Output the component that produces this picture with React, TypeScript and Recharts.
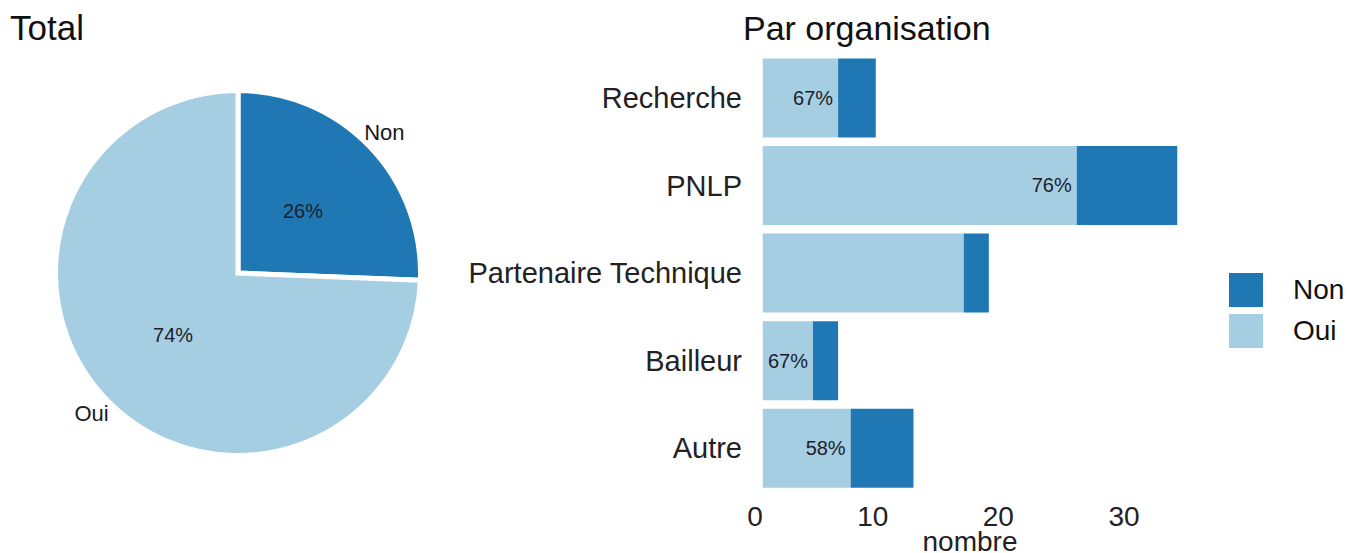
import React from "react";
import { PieChart, Pie, Cell, BarChart, Bar, XAxis, YAxis, LabelList } from "recharts";

const categories = ["Recherche", "PNLP", "Partenaire Technique", "Bailleur", "Autre"];
const oui = [6, 25, 16, 4, 7];
const non = [3, 8, 2, 2, 5];
const ouiPctLabels = ["67%", "76%", "", "67%", "58%"];
const xTicks = [0, 10, 20, 30];

const seriesNames = ["Non", "Oui"];
const seriesColors: Record<string, string> = { Non: "#1F78B4", Oui: "#A6CEE3" };

const FONT = "'Liberation Sans', Arial, Helvetica, sans-serif";
const RAD = Math.PI / 180;

const pieData = [
  { name: "Non", value: non.reduce((a, b) => a + b, 0) },
  { name: "Oui", value: oui.reduce((a, b) => a + b, 0) },
];

const barData = categories.map((c, i) => ({ name: c, Oui: oui[i], Non: non[i], pct: ouiPctLabels[i] }));

// ggplot-like 5% expansion on the value axis
const maxTotal = Math.max(...oui.map((v, i) => v + non[i]));
const pad = maxTotal * 0.05;

const renderPieLabel = (props: any) => {
  const { cx, cy, midAngle, percent, name } = props;
  const cos = Math.cos(-midAngle * RAD);
  const sin = Math.sin(-midAngle * RAD);
  return (
    <g>
      <text x={cx + 90 * cos} y={cy + 90 * sin} textAnchor="middle" dominantBaseline="central"
        fontSize={20} fill="#1d1d2b" fontFamily={FONT}>
        {Math.round(percent * 100)}%
      </text>
      <text x={cx + 203 * cos} y={cy + 203 * sin} textAnchor="middle" dominantBaseline="central"
        fontSize={22} fill="#1a1a1a" fontFamily={FONT}>
        {name}
      </text>
    </g>
  );
};

const renderBarPct = (props: any) => {
  const { x, y, width, height, value } = props;
  if (!value) return null;
  return (
    <text x={x + width - 5} y={y + height / 2} textAnchor="end" dominantBaseline="central"
      fontSize={20} fill="#1d1d2b" fontFamily={FONT}>
      {value}
    </text>
  );
};

const XTick = (props: any) => {
  const { x, y, payload } = props;
  return (
    <text x={x} y={y} dy="0.71em" textAnchor="end" fontSize={28} fill="#222" fontFamily={FONT}>
      {payload.value}
    </text>
  );
};

export default function App() {
  return (
    <div style={{ position: "absolute", left: 0, top: 0, width: 1347, height: 553, background: "#fff", fontFamily: FONT }}>
      <div style={{ position: "absolute", left: 10, top: 10, fontSize: 35, lineHeight: 1, color: "#111" }}>Total</div>
      <div style={{ position: "absolute", left: 743, top: 11, fontSize: 34, lineHeight: 1, color: "#111" }}>Par organisation</div>

      <div style={{ position: "absolute", left: 0, top: 0 }}>
        <PieChart width={470} height={553} margin={{ top: 0, right: 0, bottom: 0, left: 0 }}>
          <Pie
            data={pieData}
            dataKey="value"
            nameKey="name"
            cx={238}
            cy={273}
            outerRadius={182.5}
            startAngle={90}
            endAngle={-270}
            stroke="#fff"
            strokeWidth={5}
            label={renderPieLabel}
            labelLine={false}
            isAnimationActive={false}
          >
            {pieData.map((d) => (
              <Cell key={d.name} fill={seriesColors[d.name]} />
            ))}
          </Pie>
        </PieChart>
      </div>

      <div style={{ position: "absolute", left: 440, top: 0 }}>
        <BarChart
          width={907}
          height={553}
          data={barData}
          layout="vertical"
          barCategoryGap="5%"
          margin={{ top: 54, right: 149, bottom: 0, left: 0 }}
        >
          <XAxis
            type="number"
            domain={[-pad, maxTotal + pad]}
            allowDataOverflow
            ticks={xTicks}
            axisLine={false}
            tickLine={false}
            tickSize={0}
            tickMargin={14}
            height={61}
            tick={<XTick />}
            label={{ value: "nombre", position: "insideBottom", offset: 2, fontSize: 28, fill: "#222", fontFamily: FONT }}
          />
          <YAxis
            type="category"
            dataKey="name"
            width={302}
            axisLine={false}
            tickLine={false}
            tickSize={0}
            tickMargin={0}
            tick={{ fontSize: 29, fill: "#222", fontFamily: FONT }}
          />
          <Bar dataKey="Oui" stackId="a" fill={seriesColors.Oui} isAnimationActive={false}>
            <LabelList dataKey="pct" content={renderBarPct} />
          </Bar>
          <Bar dataKey="Non" stackId="a" fill={seriesColors.Non} isAnimationActive={false} />
        </BarChart>
      </div>

      <div style={{ position: "absolute", left: 1229, top: 273 }}>
        {seriesNames.map((s) => (
          <div key={s} style={{ display: "flex", alignItems: "center", height: 34, marginBottom: 7 }}>
            <div style={{ width: 34, height: 34, background: seriesColors[s] }} />
            <span style={{ marginLeft: 30, fontSize: 28, color: "#111", lineHeight: 1 }}>{s}</span>
          </div>
        ))}
      </div>
    </div>
  );
}
